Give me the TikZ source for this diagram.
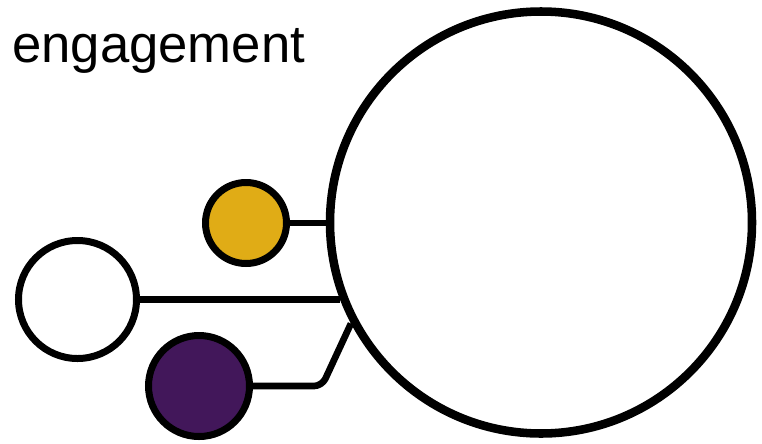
\documentclass[tikz,border=0pt]{standalone}
\usepackage{fontspec}
\setmainfont{Liberation Sans}
\usepackage{xcolor}
\definecolor{hubgold}{RGB}{224,172,22}
\definecolor{hubpurple}{RGB}{66,23,90}
\begin{document}
\begin{tikzpicture}[x=0.75pt,y=0.75pt,yscale=-1,xscale=1,
    ring/.style={circle, draw=black, line width=5.25pt, inner sep=0pt},
    link/.style={draw=black, line width=5pt}]
    \useasboundingbox (0,0) rectangle (762,443);

    %Shape: Circle [big]
    \node [ring, line width=6.4pt, fill=white, minimum size=316.5pt] (hub) at (541,222.5) {};
    %Shape: Circle [gold]
    \node [ring, fill=hubgold, minimum size=60.75pt] (gold) at (246,223) {};
    %Shape: Circle [white]
    \node [ring, fill=white, minimum size=88.5pt] (blank) at (77.5,299.5) {};
    %Shape: Circle [purple]
    \node [ring, fill=hubpurple, minimum size=75.75pt] (violet) at (199,386) {};

    %Straight Lines
    \draw [link] (gold.east) -- (gold.east -| hub.west) ;
    \draw [link] (blank.east) -- (blank.east -| hub.201.4) ;
    %Bent Line
    \draw [link, rounded corners=6pt] (violet.east) -- ++(69,0) -- (hub.208) ;

    % Text Node
    \draw (12,62) node [anchor=base west][inner sep=0pt] (title) {\fontsize{39.5}{47}\selectfont engagement};

\end{tikzpicture}
\end{document}
